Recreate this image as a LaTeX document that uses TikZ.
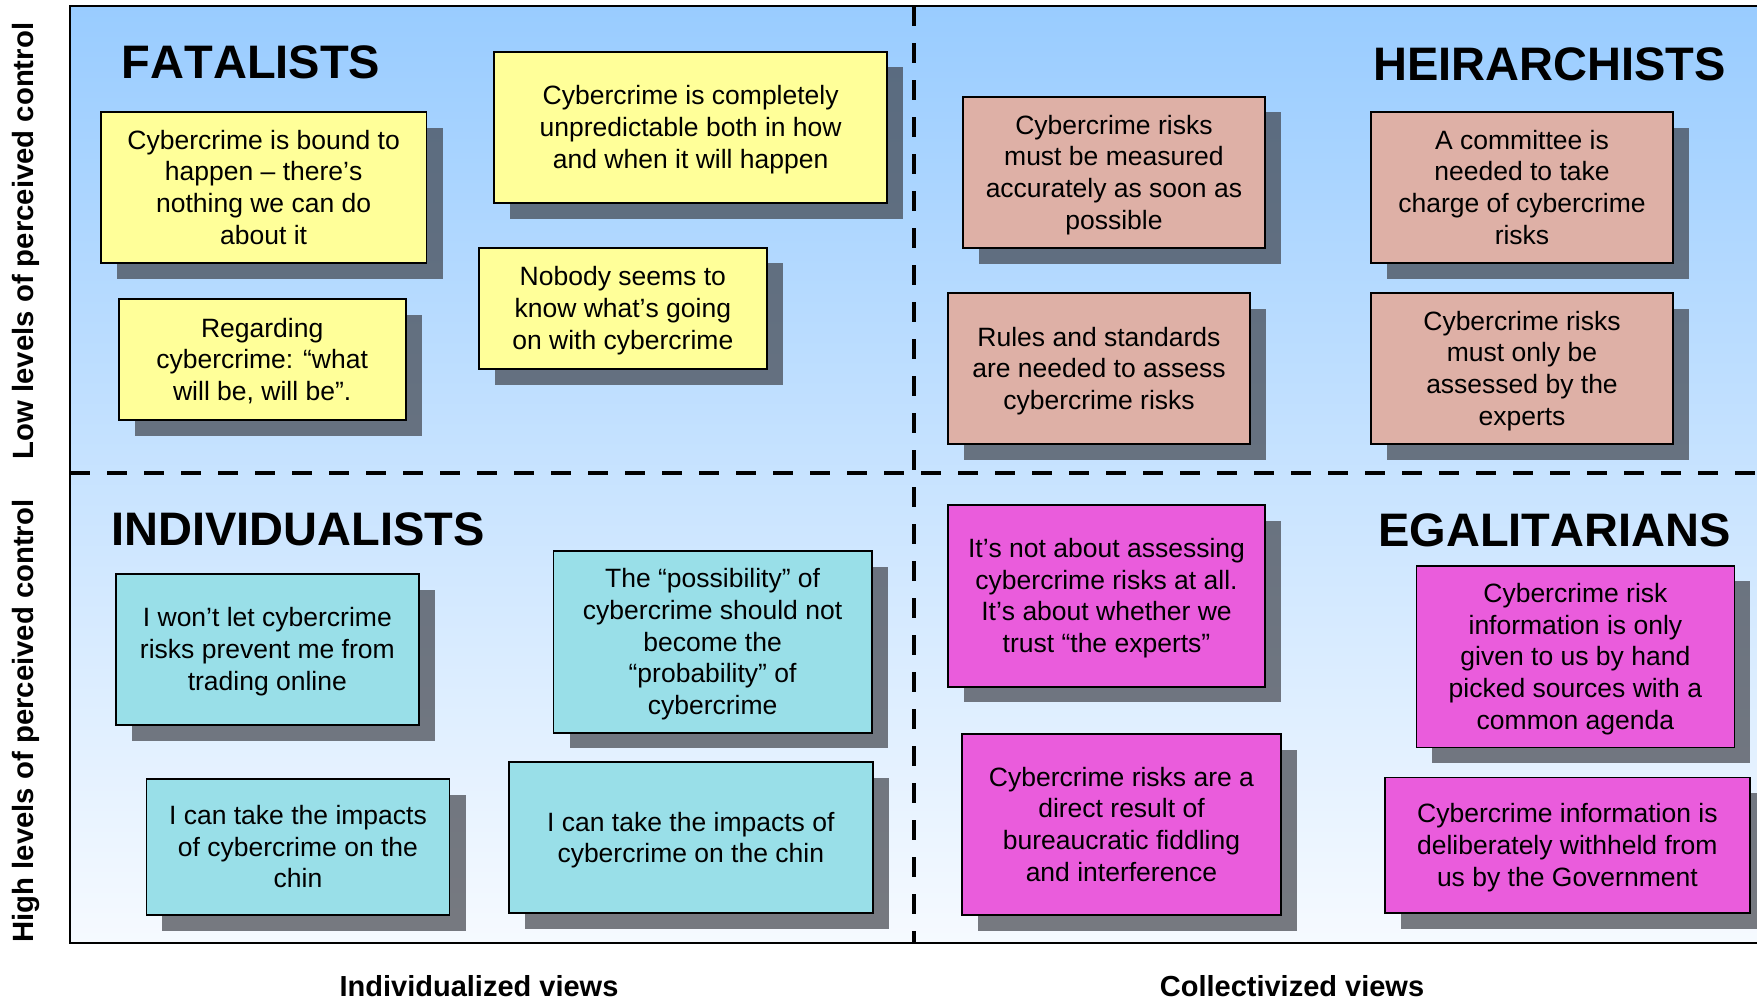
\documentclass[tikz,border=0pt]{standalone}
\usepackage{fontspec}
\setmainfont[Kerning=Off]{Liberation Sans}
\usetikzlibrary{calc}

\definecolor{bgtop}{RGB}{153,204,255}
\definecolor{bgbot}{RGB}{246,250,255}
\definecolor{yellowfill}{RGB}{255,255,153}
\definecolor{salmonfill}{RGB}{222,176,166}
\definecolor{cyanfill}{RGB}{153,223,232}
\definecolor{magentafill}{RGB}{234,92,220}
\definecolor{shadowc}{RGB}{57,59,67}

\tikzset{
  bodytext/.style={font=\fontsize{26.5}{31.7}\selectfont, align=center},
  cardbox/.style={bodytext, draw=black, line width=1.8pt, inner sep=0pt, text=black},
  shadowbox/.style={fill=shadowc, fill opacity=0.67, inner sep=0pt},
  quadtitle/.style={font=\fontsize{47}{56}\selectfont\bfseries, inner sep=0pt, anchor=base west},
  axislabel/.style={font=\fontsize{29}{34}\selectfont\bfseries, inner sep=0pt, anchor=base},
  sidelabel/.style={font=\fontsize{29.3}{34}\selectfont\bfseries, inner sep=0pt, anchor=base, rotate=90},
  divider/.style={line width=4.5pt, dash pattern=on 20pt off 17pt},
}

% line strut with the font's ascent and descent, so every box centres its lines alike
\newcommand\ls{\rule[-0.212em]{0pt}{1.117em}}

% \card{name}{x1}{y1}{x2}{y2}{fill}{text}: box with a drop shadow
\newcommand\card[7]{%
  \node[shadowbox, minimum width={#4pt-#2pt}, minimum height={#5pt-#3pt}]
    (#1-shadow) at ({(#2+#4)/2+16},{(#3+#5)/2+15.5}) {};
  \node[cardbox, fill=#6, minimum width={#4pt-#2pt}, minimum height={#5pt-#3pt}]
    (#1) at ({(#2+#4)/2},{(#3+#5)/2}) {\ls#7\ls};
}

\begin{document}
\begin{tikzpicture}[x=1pt, y=-1pt]
\useasboundingbox (0,0) rectangle (1757,999);

% background panel
\shade[top color=bgtop, bottom color=bgbot] (70,6) rectangle (1770,943);
\draw[line width=2pt] (1770,6) -- (70,6) -- (70,943) -- (1770,943);

% quadrant dividers
\coordinate (vtop) at (914,6);
\coordinate (vbot) at (914,943);
\coordinate (hleft) at (70,473);
\coordinate (hright) at (1770,473);
\draw[divider] (vtop) -- (vbot);
\draw[divider] (hleft) -- (hright);

% quadrant titles
\node[quadtitle] (fatalists) at (121.5,78) {FATALISTS};
\node[quadtitle] (heirarchists) at (1373,80) {HEIRARCHISTS};
\node[quadtitle] (individualists) at (111,545) {INDIVIDUALISTS};
\node[quadtitle] (egalitarians) at (1378,546.5) {EGALITARIANS};

% fatalists
\card{f1}{100.8}{112}{426.5}{263.3}{yellowfill}{Cybercrime is bound to\\happen – there’s\\nothing we can do\\about it}
\card{f2}{494}{51.7}{887.3}{203.3}{yellowfill}{Cybercrime is completely\\unpredictable both in how\\and when it will happen}
\card{f3}{118.8}{299.2}{405.6}{420.2}{yellowfill}{Regarding\\cybercrime: “what\\will be, will be”.}
\card{f4}{479}{247.7}{766.7}{369}{yellowfill}{Nobody seems to\\know what’s going\\on with cybercrime}

% heirarchists
\card{h1}{962.8}{96.7}{1265}{248.3}{salmonfill}{Cybercrime risks\\must be measured\\accurately as soon as\\possible}
\card{h2}{1371}{112}{1673}{263.3}{salmonfill}{A committee is\\needed to take\\charge of cybercrime\\risks}
\card{h3}{948}{293.3}{1250}{444}{salmonfill}{Rules and standards\\are needed to assess\\cybercrime risks}
\card{h4}{1371}{293.3}{1673}{444}{salmonfill}{Cybercrime risks\\must only be\\assessed by the\\experts}

% individualists
\card{i1}{116}{574}{418.7}{725}{cyanfill}{I won’t let cybercrime\\risks prevent me from\\trading online}
\card{i2}{553.5}{551.3}{871.7}{732.8}{cyanfill}{The “possibility” of\\cybercrime should not\\become the\\“probability” of\\cybercrime}
\card{i3}{146.4}{779}{449.5}{915}{cyanfill}{I can take the impacts\\of cybercrime on the\\chin}
\card{i4}{509}{762.3}{872.6}{913.3}{cyanfill}{I can take the impacts of\\cybercrime on the chin}

% egalitarians
\card{e1}{948}{505}{1265}{686.7}{magentafill}{It’s not about assessing\\cybercrime risks at all.\\It’s about whether we\\trust “the experts”}
\card{e2}{1416.4}{565.7}{1734.4}{747.4}{magentafill}{Cybercrime risk\\information is only\\given to us by hand\\picked sources with a\\common agenda}
\card{e3}{962}{734}{1281}{915}{magentafill}{Cybercrime risks are a\\direct result of\\bureaucratic fiddling\\and interference}
\card{e4}{1385}{777.5}{1749.7}{913.3}{magentafill}{Cybercrime information is\\deliberately withheld from\\us by the Government}

% axis labels
\node[sidelabel] (lowctl) at (33.5,241) {Low levels of perceived control};
\node[sidelabel] (highctl) at (33.5,721) {High levels of perceived control};
\node[axislabel] (indiv) at (479,996) {Individualized views};
\node[axislabel] (collect) at (1292,996) {Collectivized views};
\end{tikzpicture}
\end{document}
